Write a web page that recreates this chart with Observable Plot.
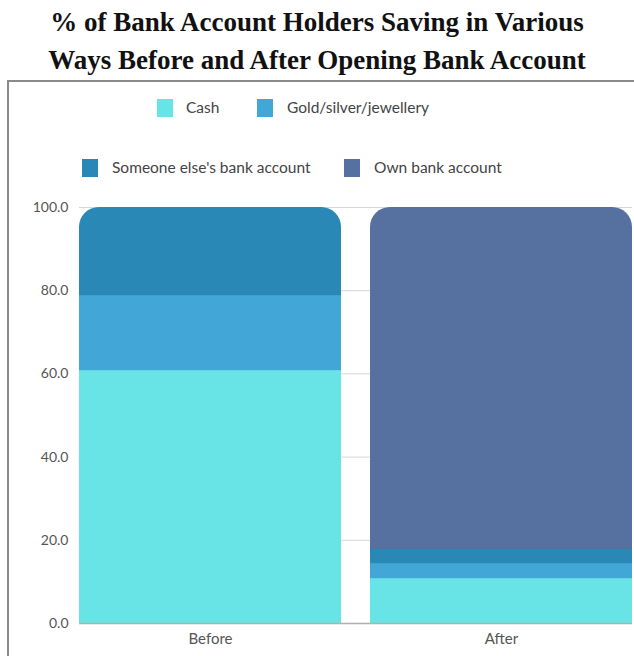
<!DOCTYPE html>
<html>
<head>
<meta charset="utf-8">
<script src="https://cdn.jsdelivr.net/npm/d3@7"></script>
<script src="https://cdn.jsdelivr.net/npm/@observablehq/plot@0.6"></script>
<style>
  body { margin: 0; width: 634px; height: 656px; overflow: hidden; background: #fff; position: relative; }
  #title { position: absolute; left: 0; top: 3px; width: 634px; text-align: center;
    font-family: "Liberation Serif", "Times New Roman", serif; font-weight: bold; font-size: 27px; line-height: 38px; color: #111; }
  #frame { position: absolute; left: 7px; top: 80px; width: 660px; height: 700px; border: 2px solid #8a8a8a; box-sizing: border-box; }
  .leg { position: absolute; font-family: Lato, sans-serif; font-size: 15.5px; color: #444; white-space: nowrap; }
  .sw { position: absolute; width: 16px; height: 18px; }
  #chart { position: absolute; left: 0; top: 190px; }
</style>
</head>
<body>
<div id="title">% of Bank Account Holders Saving in Various<br>Ways Before and After Opening Bank Account</div>
<div id="frame"></div>
<div id="legend"></div>
<div id="chart"></div>
<script>
const categories = ["Before", "After"];
const series = ["Cash", "Gold/silver/jewellery", "Someone else's bank account", "Own bank account"];
const colors = ["#68e4e6", "#42a7d7", "#2a88b6", "#56719f"];
const cash = [60.8, 10.8];
const gold = [18.0, 3.6];
const someoneElse = [21.2, 3.4];
const own = [0, 82.2];
const yTicks = [0, 20, 40, 60, 80, 100];

const values = [cash, gold, someoneElse, own];
const data = [];
categories.forEach((c, i) => {
  series.forEach((s, j) => {
    if (values[j][i] > 0) data.push({category: c, series: s, value: values[j][i]});
  });
});
// top-most segment per category gets the rounded cap
const topOf = {};
for (const d of data) topOf[d.category] = d.series;
const caps = categories.map(c => ({
  category: c, series: topOf[c],
  total: d3.sum(data.filter(d => d.category === c), d => d.value)
}));
const lower = data.filter(d => d.series !== topOf[d.category]);

// legend
const legendItems = [
  {s: 0, sx: 157, tx: 186, y: 99},
  {s: 1, sx: 257, tx: 287, y: 99},
  {s: 2, sx: 82, tx: 112, y: 159},
  {s: 3, sx: 344, tx: 374, y: 159}
];
const legend = document.getElementById("legend");
for (const it of legendItems) {
  const sw = document.createElement("div");
  sw.className = "sw";
  sw.style.left = it.sx + "px"; sw.style.top = it.y + "px"; sw.style.background = colors[it.s];
  legend.appendChild(sw);
  const t = document.createElement("div");
  t.className = "leg";
  t.style.left = it.tx + "px"; t.style.top = (it.y - 1) + "px";
  t.textContent = series[it.s];
  legend.appendChild(t);
}

const chart = Plot.plot({
  width: 634,
  height: 466,
  marginLeft: 79,
  marginRight: 2,
  marginTop: 17,
  marginBottom: 33,
  style: {fontFamily: "Lato, sans-serif", fontSize: "14px", color: "#555", background: "transparent"},
  x: {domain: categories, paddingInner: 0.1, paddingOuter: 0, label: null, tickSize: 0, tickPadding: 10},
  y: {domain: [0, 100], ticks: yTicks, tickFormat: d3.format(".1f"), label: null, tickSize: 0, tickPadding: 11},
  color: {domain: series, range: colors},
  marks: [
    Plot.ruleY(yTicks.filter(t => t > 0), {stroke: "#d6d6d6", strokeWidth: 1}),
    Plot.rectY(caps, {x: "category", y1: 0, y2: "total", fill: "series", rx: 20}),
    Plot.barY(lower, {x: "category", y: "value", fill: "series", order: series}),
    Plot.ruleY([0], {stroke: "#b0b0b0", strokeWidth: 1.5})
  ]
});
chart.querySelectorAll("[aria-label='x-axis tick label'] text").forEach(t => t.style.fontSize = "15px");
document.getElementById("chart").appendChild(chart);
</script>
</body>
</html>
